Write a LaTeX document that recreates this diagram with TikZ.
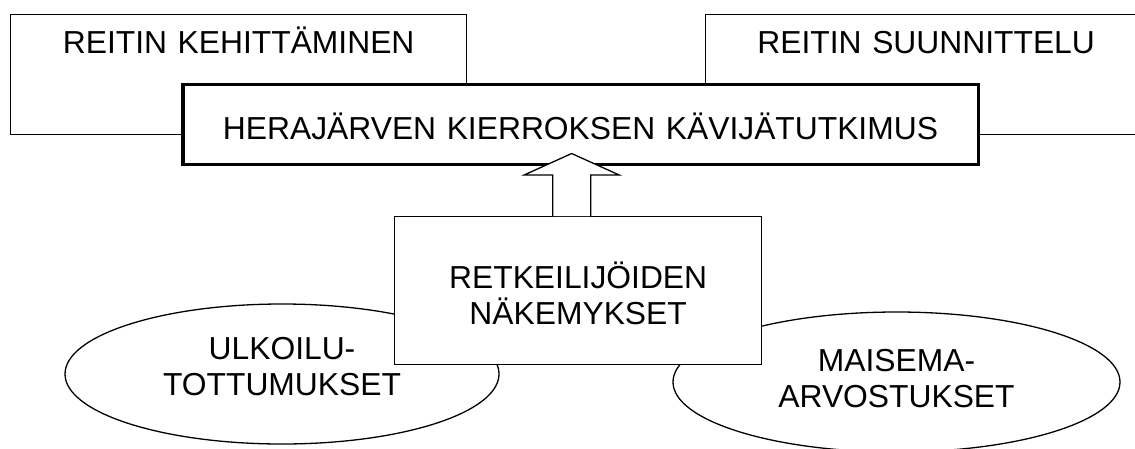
\documentclass[tikz,border=0pt]{standalone}
\usepackage{fontspec}
\setmainfont{Liberation Sans}
\usetikzlibrary{shapes.geometric}

\begin{document}
\begin{tikzpicture}[x=1pt,y=-1pt,font=\fontsize{31.8}{36}\selectfont,
		plainbox/.style={rectangle,draw,fill=white,line width=1.3pt,inner sep=0pt,align=center},
		oval/.style={ellipse,draw,fill=white,line width=1.3pt,inner sep=0pt,align=center,text width=250pt}]
		\useasboundingbox (0,0) rectangle (1135,448);
		% ylalaatikot
		\node [plainbox,anchor=north west,text width=456pt,text height=39.5pt,text depth=81pt] (kehit) at (10,13.5) {REITIN KEHITTÄMINEN};
		\node [plainbox,anchor=north west,text width=441pt,text height=39.5pt,text depth=80.5pt] (suunn) at (705,13.5) {REITIN SUUNNITTELU};
		\node [plainbox,line width=3.5pt,anchor=north west,text width=795.5pt,text height=55.5pt,text depth=24.5pt] (tutk) at (181,82.5) {HERAJÄRVEN KIERROKSEN KÄVIJÄTUTKIMUS};
		% alaosa
		\node [oval,minimum width=434pt,minimum height=140pt,text height=22pt,text depth=52pt] (ulko) at (282,374) {ULKOILU-\\TOTTUMUKSET};
		\node [oval,minimum width=447pt,minimum height=140pt,text height=22pt,text depth=44pt] (maisema) at (896.5,382) {MAISEMA-\\ARVOSTUKSET};
		\node [plainbox,anchor=north west,text width=367pt,text height=72pt,text depth=76pt] (retk) at (394,216) {RETKEILIJÖIDEN\\NÄKEMYKSET};
		% nuoli
		\coordinate (foot) at ([xshift=-6.5pt]retk.north);
		\coordinate (tip) at ([yshift=12.5pt]tutk.south -| foot);
		\filldraw [fill=white,line width=1.3pt] ([xshift=-19pt]foot) -- ([xshift=-19pt,yshift=41pt]foot) -- ([xshift=-47.5pt,yshift=41pt]foot) -- (tip)
			-- ([xshift=47.5pt,yshift=41pt]foot) -- ([xshift=19pt,yshift=41pt]foot) -- ([xshift=19pt]foot);
\end{tikzpicture}
\end{document}
